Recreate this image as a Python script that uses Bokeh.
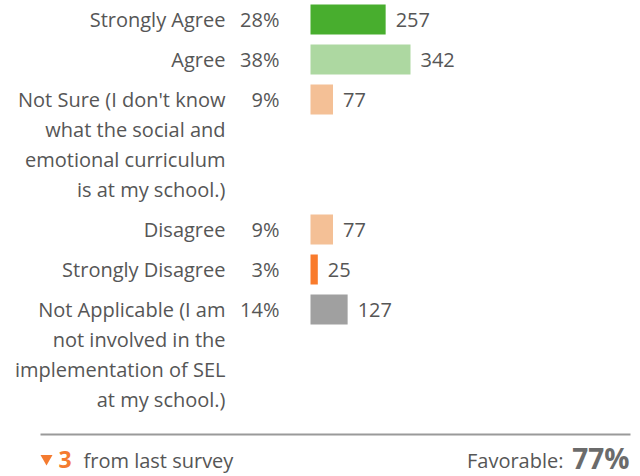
from bokeh.plotting import figure
from bokeh.models import Range1d, ColumnDataSource
from bokeh.core.properties import value
from bokeh.embed import file_html
from bokeh.resources import INLINE

# ---- data ----
categories = [
    ["Strongly Agree"],
    ["Agree"],
    ["Not Sure (I don't know", "what the social and", "emotional curriculum", "is at my school.)"],
    ["Disagree"],
    ["Strongly Disagree"],
    ["Not Applicable (I am", "not involved in the", "implementation of SEL", "at my school.)"],
]
percents = ["28%", "38%", "9%", "9%", "3%", "14%"]
counts = [257, 342, 77, 77, 25, 127]
colors = ["#48ae2e", "#add8a1", "#f4c096", "#f4c096", "#f97b2c", "#a0a0a0"]
change_value = "3"
change_text = "from last survey"
favorable_label = "Favorable:"
favorable_value = "77%"

# ---- layout ----
W, H = 640, 476
BAR_X0 = 310          # pixel where bars start
PX_PER_UNIT = 100 / 342
LINE_H = 30
GAP = 10
FONT = value("Open Sans")
TXT = "#565656"
ORANGE = "#f47b30"
FS = "20px"

def px(xp):
    return (xp - BAR_X0) / PX_PER_UNIT

p = figure(width=W, height=H, output_backend="svg", toolbar_location=None,
           x_range=Range1d(px(0), px(W)), y_range=Range1d(H, 0),
           min_border=0, min_border_left=0, min_border_right=0,
           min_border_top=0, min_border_bottom=0)
p.axis.visible = False
p.grid.visible = False
p.outline_line_color = None
p.background_fill_color = "white"
p.border_fill_color = "white"

tops = []
y = 4
for lines in categories:
    tops.append(y)
    y += LINE_H * len(lines) + GAP
centers = [t + LINE_H / 2 for t in tops]

bars = ColumnDataSource(dict(y=centers, right=counts, color=colors,
                             pct=percents, cnt=[str(c) for c in counts]))
p.hbar(y="y", left=0, right="right", height=LINE_H, color="color",
       line_color=None, source=bars)

# counts right of bars
p.text(x="right", y="y", text="cnt", source=bars, x_offset=10,
       text_font=FONT, text_font_size=FS, text_color=TXT,
       text_align="left", text_baseline="middle")
# percentages
p.text(x=0, y="y", text="pct", source=bars, x_offset=-31,
       text_font=FONT, text_font_size=FS, text_color=TXT,
       text_align="right", text_baseline="middle")

# category labels (multi-line)
lab_y, lab_t = [], []
for c, lines in zip(centers, categories):
    for i, ln in enumerate(lines):
        lab_y.append(c + i * LINE_H)
        lab_t.append(ln)
p.text(x=[0] * len(lab_t), y=lab_y, text=lab_t, x_offset=-85,
       text_font=FONT, text_font_size=FS, text_color=TXT,
       text_align="right", text_baseline="middle")

# footer separator
p.segment(x0=[px(40)], y0=[434], x1=[px(630)], y1=[434],
          line_color="#9a9a9a", line_width=2)

# footer
p.scatter(x=[px(46)], y=[458], marker="inverted_triangle", size=12,
          color=ORANGE, line_color=None)
p.text(x=[px(58)], y=[459], text=[change_value], text_font=FONT,
       text_font_size="23px", text_font_style="bold", text_color=ORANGE,
       text_align="left", text_baseline="middle")
p.text(x=[px(83)], y=[460], text=[change_text], text_font=FONT,
       text_font_size=FS, text_color=TXT,
       text_align="left", text_baseline="middle")
p.text(x=[px(563)], y=[460], text=[favorable_label], text_font=FONT,
       text_font_size=FS, text_color=TXT,
       text_align="right", text_baseline="middle")
p.text(x=[px(629)], y=[457], text=[favorable_value], text_font=FONT,
       text_font_size="28px", text_font_style="bold", text_color="#6b6b6b",
       text_align="right", text_baseline="middle")

open("out.html", "w").write(file_html(p, INLINE))
